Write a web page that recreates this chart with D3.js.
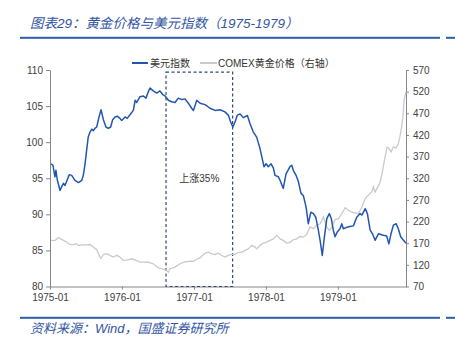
<!DOCTYPE html>
<html>
<head>
<meta charset="utf-8">
<script src="https://cdn.jsdelivr.net/npm/d3@7"></script>
<style>
  html, body { margin: 0; padding: 0; background: #fff; }
  svg { display: block; }
  text { font-family: "Liberation Sans", Arial, "Noto Sans CJK SC", sans-serif; }
</style>
</head>
<body>
<svg id="chart" width="455" height="342"></svg>
<script>
// US dollar index (left axis)
const dxyDates = ["1975-01-06","1975-01-16","1975-01-26","1975-01-31","1975-02-07","1975-02-21","1975-03-01","1975-03-10","1975-03-18","1975-04-09","1975-04-21","1975-05-08","1975-05-25","1975-06-11","1975-06-19","1975-06-28","1975-07-06","1975-07-14","1975-07-23","1975-08-01","1975-08-09","1975-08-17","1975-08-26","1975-09-07","1975-09-17","1975-09-29","1975-10-12","1975-10-24","1975-11-05","1975-11-15","1975-11-27","1975-12-09","1975-12-22","1975-12-31","1976-01-17","1976-01-28","1976-02-11","1976-02-28","1976-03-08","1976-03-16","1976-04-02","1976-04-19","1976-05-02","1976-05-14","1976-05-23","1976-06-08","1976-06-26","1976-07-12","1976-07-26","1976-08-07","1976-08-24","1976-09-10","1976-09-27","1976-10-13","1976-10-31","1976-11-16","1976-12-03","1976-12-20","1976-12-29","1977-01-15","1977-02-01","1977-02-26","1977-03-23","1977-04-18","1977-05-13","1977-06-07","1977-06-24","1977-07-06","1977-07-17","1977-07-28","1977-08-09","1977-08-23","1977-09-08","1977-09-29","1977-10-12","1977-10-29","1977-11-15","1977-12-02","1977-12-11","1977-12-22","1978-01-02","1978-01-13","1978-01-27","1978-02-08","1978-02-16","1978-03-05","1978-03-14","1978-03-30","1978-04-13","1978-04-23","1978-05-03","1978-05-12","1978-05-20","1978-06-03","1978-06-15","1978-06-28","1978-07-10","1978-07-24","1978-08-04","1978-08-17","1978-08-30","1978-09-11","1978-09-24","1978-10-03","1978-10-14","1978-10-25","1978-11-06","1978-11-19","1978-11-29","1978-12-09","1978-12-18","1978-12-30","1979-01-12","1979-01-21","1979-01-29","1979-02-15","1979-03-04","1979-03-21","1979-04-07","1979-04-24","1979-05-03","1979-05-20","1979-05-31","1979-06-14","1979-06-26","1979-07-09","1979-07-26","1979-08-20","1979-09-06","1979-09-17","1979-09-28","1979-10-10","1979-10-24","1979-11-04","1979-11-16","1979-11-30","1979-12-13"];
const dxyValues = [97.0,96.8,95.2,96.1,94.8,93.3,93.8,94.3,94.0,95.5,95.4,94.7,94.4,94.7,95.4,97.0,98.9,100.7,101.4,101.8,101.6,101.9,102.1,103.5,104.5,103.1,102.1,101.9,102.1,103.1,103.5,103.6,103.3,103.0,103.5,103.3,103.8,104.4,105.8,105.5,106.3,106.4,106.1,107.0,107.5,107.1,106.8,107.1,106.6,106.4,105.8,105.6,105.5,106.1,105.9,106.0,105.4,104.7,104.4,105.8,105.4,105.2,104.7,104.4,104.5,104.2,103.75,102.8,102.1,102.8,103.75,103.9,103.4,103.7,102.6,101.4,100.7,99.1,98.0,96.6,97.0,96.6,97.0,96.4,95.4,95.2,94.7,93.6,95.6,96.1,96.6,96.8,96.1,95.4,94.5,92.9,92.6,91.0,88.7,90.3,90.1,89.6,87.8,86.4,84.3,86.9,89.4,90.1,89.4,87.8,86.9,87.6,88.0,88.7,88.0,88.2,88.3,88.4,89.6,90.1,89.9,90.8,90.1,87.8,87.3,86.4,87.3,87.1,87.0,85.9,87.3,88.5,88.7,88.0,86.9,86.4,86.0];

// COMEX gold price (right axis)
const goldDates = ["1975-01-06","1975-01-26","1975-02-12","1975-03-01","1975-03-27","1975-04-13","1975-04-29","1975-05-13","1975-05-25","1975-06-11","1975-07-06","1975-07-23","1975-08-09","1975-08-26","1975-09-12","1975-09-17","1975-09-29","1975-10-16","1975-11-02","1975-11-18","1975-12-06","1975-12-22","1976-01-08","1976-01-25","1976-02-20","1976-03-16","1976-04-02","1976-04-19","1976-05-14","1976-06-08","1976-07-04","1976-07-29","1976-08-12","1976-08-24","1976-09-01","1976-09-27","1976-10-22","1976-11-16","1976-12-12","1976-12-29","1977-01-15","1977-02-01","1977-02-26","1977-03-15","1977-04-01","1977-04-18","1977-05-04","1977-05-22","1977-06-07","1977-06-24","1977-07-11","1977-07-28","1977-08-14","1977-08-31","1977-09-17","1977-10-04","1977-10-21","1977-11-07","1977-11-15","1977-12-02","1977-12-19","1978-01-05","1978-01-22","1978-02-08","1978-02-25","1978-03-14","1978-03-30","1978-04-17","1978-05-03","1978-05-20","1978-06-06","1978-06-23","1978-07-10","1978-07-27","1978-08-13","1978-08-30","1978-09-16","1978-10-03","1978-10-20","1978-11-06","1978-11-19","1978-12-01","1978-12-18","1979-01-04","1979-01-21","1979-02-07","1979-02-23","1979-03-13","1979-03-30","1979-04-15","1979-05-03","1979-05-20","1979-06-05","1979-06-22","1979-06-30","1979-07-09","1979-07-23","1979-08-03","1979-08-15","1979-08-27","1979-09-08","1979-09-17","1979-09-28","1979-10-10","1979-10-24","1979-11-04","1979-11-16","1979-11-27","1979-12-03","1979-12-13"];
const goldValues = [176.5,176,182.7,178.8,172.6,166.5,166.5,169,165,166,166,167,161,155,138,135,144,145.6,141.7,137.9,142,138,130.2,131,134,130,126.4,126.4,126,122.5,113.2,110,108.6,103,111,114.7,122.6,127,128.3,128,133,136.7,147,149.2,145.6,144,147,141.7,137.9,141.7,144,144.5,148.7,149,153.3,157,165,161,157,165,170,172.6,176.5,180,188,180,176.5,170.3,172,178,180,185.5,184,190.4,207.4,203.5,211.2,215,230.4,207,199.7,207,224.3,226,238,252,246,242,240,238,253.7,273,281,288.4,300,288,300,310,335,365,392,389,381,392,390,400,425,460,500,520];

// Axis ticks
const leftTicks = [80, 85, 90, 95, 100, 105, 110];
const rightTicks = [70, 120, 170, 220, 270, 320, 370, 420, 470, 520, 570];
const xTickLabels = ["1975-01", "1976-01", "1977-01", "1978-01", "1979-01"];

// Highlighted window: gold rally
const rallyStart = "1976-08-12";
const rallyEnd = "1977-07-16";
const rallyLabel = "上涨35%";

const titleText = "图表29：黄金价格与美元指数（1975-1979）";
const sourceText = "资料来源：Wind，国盛证券研究所";
const legendNames = ["美元指数", "COMEX黄金价格（右轴）"];

const parse = d3.timeParse("%Y-%m-%d");
const parseMonth = d3.timeParse("%Y-%m");
const dxy = dxyDates.map((d, i) => ({ date: parse(d), value: dxyValues[i] }));
const gold = goldDates.map((d, i) => ({ date: parse(d), value: goldValues[i] }));

const svg = d3.select("#chart");
const blue = "#2257b0";
const textBlue = "#3356a3";

const plot = { left: 50, right: 406, top: 70, bottom: 286.5 };

const x = d3.scaleTime()
  .domain([parse("1975-01-01"), parse("1979-12-13")])
  .range([plot.left, plot.right]);
const yL = d3.scaleLinear().domain([80, 110]).range([plot.bottom, plot.top]);
const yR = d3.scaleLinear().domain([70, 570]).range([plot.bottom, plot.top]);

// Title and header rule
svg.append("text")
  .attr("x", 30).attr("y", 28)
  .attr("font-size", 13.5).attr("font-style", "italic")
  .attr("fill", textBlue)
  .text(titleText);
svg.append("rect").attr("x", 20).attr("y", 36.8).attr("width", 420).attr("height", 2).attr("fill", "#2e5ea8");
svg.append("rect").attr("x", 446).attr("y", 36.8).attr("width", 9).attr("height", 2).attr("fill", "#2e5ea8");

// Footer rule and source
svg.append("rect").attr("x", 20).attr("y", 316.8).attr("width", 420).attr("height", 2).attr("fill", "#2e5ea8");
svg.append("rect").attr("x", 446).attr("y", 316.8).attr("width", 9).attr("height", 2).attr("fill", "#2e5ea8");
svg.append("text")
  .attr("x", 30).attr("y", 333)
  .attr("font-size", 13).attr("font-style", "italic")
  .attr("fill", textBlue)
  .text(sourceText);

// Axes
const axisColor = "#868686";
const labelColor = "#404040";

function styleAxis(g) {
  g.selectAll(".domain").attr("stroke", axisColor);
  g.selectAll(".tick line").attr("stroke", axisColor);
  g.selectAll(".tick text").attr("fill", labelColor).attr("font-size", 10)
    .attr("font-family", "'Liberation Sans', Arial, sans-serif");
}

svg.append("g")
  .attr("transform", `translate(${plot.left},0)`)
  .call(d3.axisLeft(yL).tickValues(leftTicks).tickSize(4).tickPadding(3).tickSizeOuter(0))
  .call(styleAxis);

svg.append("g")
  .attr("transform", `translate(${plot.right},0)`)
  .call(d3.axisRight(yR).tickValues(rightTicks).tickSize(3).tickPadding(4).tickSizeOuter(0))
  .call(styleAxis);

svg.append("g")
  .attr("transform", `translate(0,${plot.bottom})`)
  .call(d3.axisBottom(x)
    .tickValues(xTickLabels.map(parseMonth))
    .tickFormat(d3.timeFormat("%Y-%m"))
    .tickSize(3).tickPadding(4.5).tickSizeOuter(0))
  .call(styleAxis);

// Rally window
const rx0 = x(parse(rallyStart)), rx1 = x(parse(rallyEnd));
svg.append("rect")
  .attr("x", rx0).attr("y", yL(109.7))
  .attr("width", rx1 - rx0).attr("height", yL(80) - yL(109.7))
  .attr("fill", "none").attr("stroke", "#2f4a6e")
  .attr("stroke-width", 1.2).attr("stroke-dasharray", "3,2.5");
svg.append("text")
  .attr("x", (rx0 + rx1) / 2).attr("y", 182)
  .attr("text-anchor", "middle").attr("font-size", 10)
  .attr("fill", "#333")
  .text(rallyLabel);

// Series
const lineL = d3.line().x(d => x(d.date)).y(d => yL(d.value));
const lineR = d3.line().x(d => x(d.date)).y(d => yR(d.value));

svg.append("path").datum(gold)
  .attr("d", lineR).attr("fill", "none")
  .attr("stroke", "#cacaca").attr("stroke-width", 1.3);

svg.append("path").datum(dxy)
  .attr("d", lineL).attr("fill", "none")
  .attr("stroke", blue).attr("stroke-width", 1.5)
  .attr("stroke-linejoin", "round");

// Legend
const legend = svg.append("g").attr("font-size", 10).attr("fill", "#333");
legend.append("line").attr("x1", 132).attr("x2", 148).attr("y1", 63).attr("y2", 63)
  .attr("stroke", blue).attr("stroke-width", 2);
legend.append("text").attr("x", 150).attr("y", 66.5).text(legendNames[0]);
legend.append("line").attr("x1", 200).attr("x2", 217).attr("y1", 63).attr("y2", 63)
  .attr("stroke", "#cacaca").attr("stroke-width", 2);
legend.append("text").attr("x", 218).attr("y", 66.5).text(legendNames[1]);
</script>
</body>
</html>
